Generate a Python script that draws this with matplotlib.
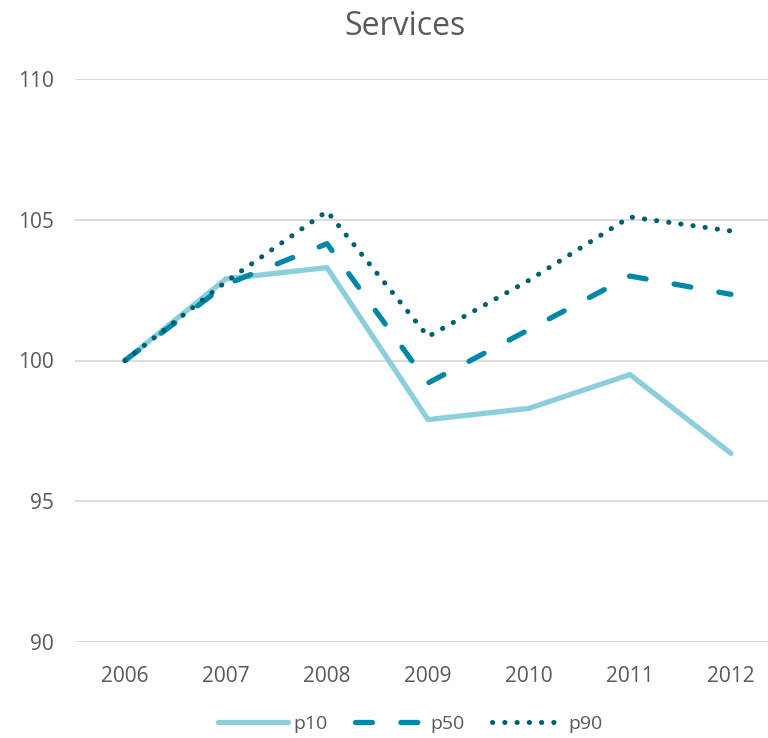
import matplotlib
matplotlib.use("Agg")
import matplotlib.pyplot as plt

years = ["2006", "2007", "2008", "2009", "2010", "2011", "2012"]
p10 = [100.0, 102.9, 103.3, 97.9, 98.3, 99.5, 96.7]
p50 = [100.0, 102.7, 104.15, 99.2, 101.1, 103.0, 102.35]
p90 = [100.0, 102.8, 105.3, 100.85, 102.85, 105.1, 104.6]
yticks = [90, 95, 100, 105, 110]

plt.rcParams['font.family'] = ['Open Sans', 'DejaVu Sans']
txt = '#595959'

fig = plt.figure(figsize=(7.68, 7.38), dpi=100)
W, H = 768, 738
left, right = 74.5, 768
top, bottom = 79, 642
ax = fig.add_axes([left / W, (H - bottom) / H, (right - left) / W, (bottom - top) / H])

x = list(range(len(years)))
ax.plot(x, p10, color='#8bcfdc', lw=3.8, solid_capstyle='round', solid_joinstyle='round', label='p10', zorder=3)
ax.plot(x, p50, color='#0087a8', lw=3.8, dashes=(3.2, 5.4), dash_capstyle='round', label='p50', zorder=4)
ax.plot(x, p90, color='#005f6e', lw=3.6, dashes=(0.05, 2.4), dash_capstyle='round', label='p90', zorder=5)

ax.set_ylim(90, 110)
ax.set_xlim(-0.5, -0.5 + (right - left) / 101.0)
ax.set_yticks(yticks)
ax.set_yticklabels([str(v) for v in yticks])
ax.set_xticks(x)
ax.set_xticklabels(years)
ax.grid(axis='y', color='#d9d9d9', lw=1.3, zorder=0)
for s in ax.spines.values():
    s.set_visible(False)
ax.tick_params(axis='both', length=0, labelsize=15, labelcolor=txt)
ax.tick_params(axis='y', pad=15)
ax.tick_params(axis='x', pad=17)

fig.text(404.5 / W, 1 - 35 / H, 'Services', ha='center', va='baseline', fontsize=23, color=txt)

leg = fig.legend(loc='center', bbox_to_anchor=(410 / W, 1 - 724 / H), ncol=3, frameon=False,
                 fontsize=14, handlelength=3.6, handletextpad=0.3, columnspacing=1.4, labelcolor=txt)

fig.savefig('out.png', dpi=100, facecolor='white')
